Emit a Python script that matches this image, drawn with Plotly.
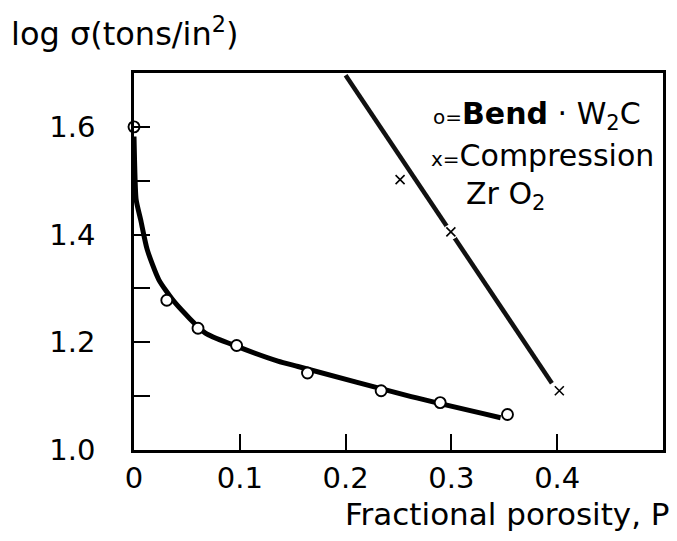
import plotly.graph_objects as go

# ---- data ----
bend_p = [0.0, 0.031, 0.0605, 0.097, 0.164, 0.2336, 0.2894, 0.353]
bend_log_sigma = [1.600, 1.278, 1.226, 1.194, 1.143, 1.110, 1.088, 1.066]

bend_curve_p = [0.0, 0.0005, 0.002, 0.0063, 0.0125, 0.0235, 0.039, 0.0675, 0.0925, 0.136, 0.155, 0.262, 0.3465]
bend_curve_log_sigma = [1.582, 1.539, 1.465, 1.4275, 1.372, 1.316, 1.273, 1.217, 1.196, 1.165, 1.155, 1.099, 1.060]

comp_p = [0.1976, 0.2515, 0.2995, 0.402]
comp_log_sigma = [1.703, 1.502, 1.405, 1.110]

comp_fit_p = [0.200, 0.395]
comp_fit_log_sigma = [1.696, 1.124]

x_tick_vals = [0.0, 0.1, 0.2, 0.3, 0.4]
x_tick_text = ["0", "0.1", "0.2", "0.3", "0.4"]
y_tick_vals = [1.0, 1.2, 1.4, 1.6]
y_tick_text = ["1.0", "1.2", "1.4", "1.6"]
y_minor_tick_vals = [1.1, 1.3, 1.5]

# ---- layout geometry ----
W, H = 677, 541
ML, MR, MT, MB = 134, 11, 73, 91
PW, PH = W - ML - MR, H - MT - MB
FONT = "DejaVu Sans"


def px(x):
    return (x - ML) / PW


def py(y):
    return (H - MB - y) / PH


fig = go.Figure()

fig.add_trace(go.Scatter(
    x=bend_curve_p, y=bend_curve_log_sigma, mode="lines",
    line=dict(color="black", width=5, shape="spline", smoothing=0.6),
    hoverinfo="skip", showlegend=False))

fig.add_trace(go.Scatter(
    x=comp_fit_p, y=comp_fit_log_sigma, mode="lines",
    line=dict(color="#111", width=4.5),
    hoverinfo="skip", showlegend=False))

# white halo under crosses to make the hand-drawn line gaps
fig.add_trace(go.Scatter(
    x=comp_p, y=comp_log_sigma, mode="markers",
    marker=dict(symbol="circle", size=15, color="white", line=dict(width=0)),
    cliponaxis=False, hoverinfo="skip", showlegend=False))

fig.add_trace(go.Scatter(
    x=comp_p, y=comp_log_sigma, mode="markers", name="Compression ZrO2",
    marker=dict(symbol="x-thin", size=9, line=dict(color="black", width=1.6)),
    cliponaxis=False, showlegend=False))

fig.add_trace(go.Scatter(
    x=bend_p, y=bend_log_sigma, mode="markers", name="Bend W2C",
    marker=dict(symbol="circle", size=11, color="white", line=dict(color="black", width=1.9)),
    cliponaxis=False, showlegend=False))

axis_common = dict(
    showline=True, linecolor="black", linewidth=2.5, mirror=True,
    showgrid=False, zeroline=False, ticks="inside", ticklen=16, tickwidth=1.8,
    tickcolor="black", tickfont=dict(family=FONT, size=29, color="black"),
)

fig.update_xaxes(range=[0, 0.5], tickmode="array", tickvals=x_tick_vals,
                 ticktext=x_tick_text, ticklabelstandoff=0, **axis_common)
fig.update_yaxes(range=[1.0, 1.7], tickmode="array", tickvals=y_tick_vals,
                 ticktext=y_tick_text, ticklabelstandoff=30,
                 minor=dict(tickmode="array", tickvals=y_minor_tick_vals, ticks="inside",
                            ticklen=16, tickwidth=1.8, tickcolor="black", showgrid=False),
                 **axis_common)

annotations = [
    dict(text="log σ(tons/in<sup>2</sup>)", x=px(8), y=py(32), xanchor="left", yanchor="middle",
         font=dict(size=32)),
    dict(text="Fractional porosity, P", x=px(675), y=py(514), xanchor="right", yanchor="middle",
         font=dict(size=31)),
    dict(text="<span style='font-size:20px'>o=</span><b>Bend</b> · W<sub>2</sub>C", x=px(433), y=py(115),
         xanchor="left", yanchor="middle", font=dict(size=30)),
    dict(text="<span style='font-size:20px'>x=</span>Compression", x=px(431), y=py(155),
         xanchor="left", yanchor="middle", font=dict(size=30)),
    dict(text="Zr O<sub>2</sub>", x=px(466), y=py(195),
         xanchor="left", yanchor="middle", font=dict(size=30)),
]
for a in annotations:
    a.update(xref="paper", yref="paper", showarrow=False)
    a["font"].update(family=FONT, color="black")

fig.update_layout(
    width=W, height=H, margin=dict(l=ML, r=MR, t=MT, b=MB),
    paper_bgcolor="white", plot_bgcolor="white",
    annotations=annotations, showlegend=False,
)

fig.write_html("out.html")
